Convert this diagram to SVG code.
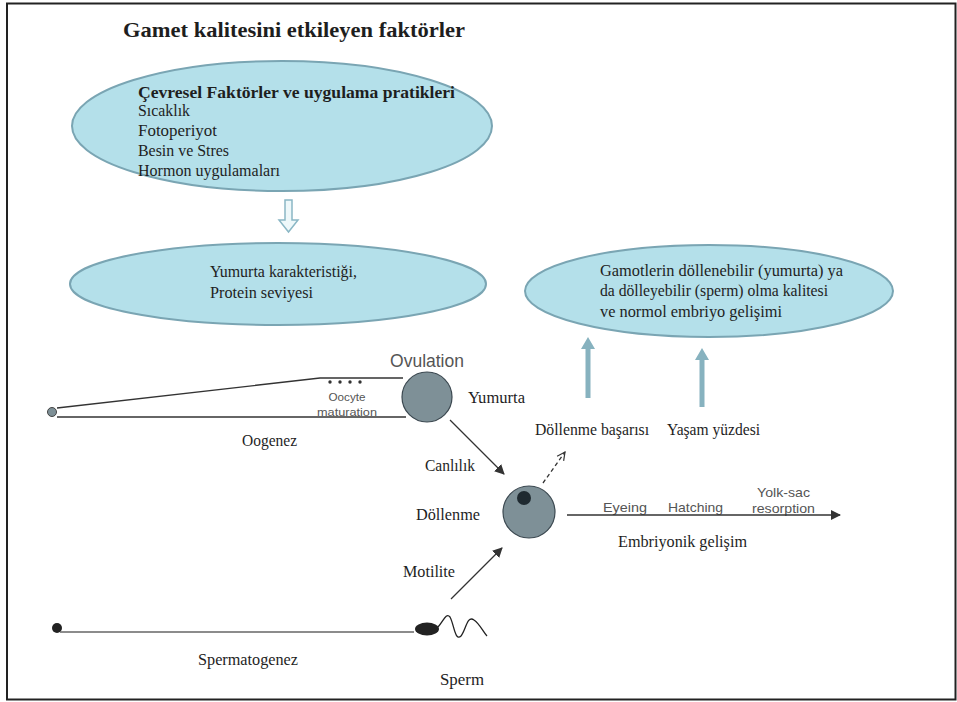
<svg xmlns="http://www.w3.org/2000/svg" width="957" height="702" viewBox="0 0 957 702">
<defs>
<style>
.serif{font-family:"Liberation Serif","Times New Roman",serif;fill:#1e1e1e}
.sans{font-family:"Liberation Sans",Arial,sans-serif;fill:#555}
.ell{fill:#b4e0ea;stroke:#7aa5b3;stroke-width:2}
.cell{fill:#7e9097;stroke:#3b4850;stroke-width:1.2}
.line{stroke:#333;stroke-width:1.3;fill:none}
.upar{fill:#87b2bf}
</style>
<marker id="ah" markerWidth="10" markerHeight="10" refX="9" refY="5" orient="auto" markerUnits="userSpaceOnUse">
<path d="M0,0 L10,5 L0,10 Z" fill="#333"/>
</marker>
<marker id="ahOpen" markerWidth="10" markerHeight="10" refX="9" refY="5" orient="auto" markerUnits="userSpaceOnUse">
<path d="M1,1 L9,5 L1,9" fill="none" stroke="#333" stroke-width="1.2"/>
</marker>
</defs>
<rect x="0" y="0" width="957" height="702" fill="#fff"/>
<rect x="7" y="3.5" width="948.5" height="696" fill="none" stroke="#222" stroke-width="2"/>

<text class="serif" x="123" y="37" font-size="22" font-weight="bold" textLength="342" lengthAdjust="spacingAndGlyphs">Gamet kalitesini etkileyen faktörler</text>

<g id="node-cevresel">
<ellipse class="ell" cx="282" cy="126" rx="210" ry="65"/>
<text class="serif" x="138" y="98" font-size="17" font-weight="bold" textLength="317" lengthAdjust="spacingAndGlyphs">Çevresel Faktörler ve uygulama pratikleri</text>
<text class="serif" x="138" y="116" font-size="16" textLength="52" lengthAdjust="spacingAndGlyphs">Sıcaklık</text>
<text class="serif" x="138" y="136" font-size="16" textLength="79" lengthAdjust="spacingAndGlyphs">Fotoperiyot</text>
<text class="serif" x="138" y="156" font-size="16" textLength="91" lengthAdjust="spacingAndGlyphs">Besin ve Stres</text>
<text class="serif" x="138" y="176" font-size="16" textLength="142" lengthAdjust="spacingAndGlyphs">Hormon uygulamaları</text>
</g>

<g id="node-yumurta-kar">
<ellipse class="ell" cx="278" cy="284" rx="208" ry="41"/>
<text class="serif" x="210" y="277" font-size="16" textLength="147" lengthAdjust="spacingAndGlyphs">Yumurta karakteristiği,</text>
<text class="serif" x="210" y="298" font-size="16" textLength="103" lengthAdjust="spacingAndGlyphs">Protein seviyesi</text>
</g>

<g id="node-gamet-kalite">
<ellipse class="ell" cx="709" cy="291" rx="184" ry="46"/>
<text class="serif" x="600" y="276" font-size="16" textLength="243" lengthAdjust="spacingAndGlyphs">Gamotlerin döllenebilir (yumurta) ya</text>
<text class="serif" x="600" y="296" font-size="16" textLength="228" lengthAdjust="spacingAndGlyphs">da dölleyebilir (sperm) olma kalitesi</text>
<text class="serif" x="600" y="317" font-size="16" textLength="182" lengthAdjust="spacingAndGlyphs">ve normol embriyo gelişimi</text>
</g>

<g id="node-oogenez">
<circle cx="52" cy="412" r="4.5" fill="#7e9097" stroke="#444" stroke-width="1"/>
<polyline class="line" points="57,408 320,378 403,378" stroke-width="1"/>
<line class="line" x1="57" y1="417" x2="406" y2="417" stroke-width="1"/>
<g fill="#333">
<circle cx="330" cy="382" r="1.7"/><circle cx="340" cy="382" r="1.7"/><circle cx="350" cy="382" r="1.7"/><circle cx="360" cy="382" r="1.7"/>
</g>
<text class="sans" x="347" y="401" font-size="11.5" text-anchor="middle" textLength="37" lengthAdjust="spacingAndGlyphs">Oocyte</text>
<text class="sans" x="347" y="416" font-size="11.5" text-anchor="middle" textLength="60" lengthAdjust="spacingAndGlyphs">maturation</text>
<text class="serif" x="242" y="446" font-size="16" textLength="55" lengthAdjust="spacingAndGlyphs">Oogenez</text>
</g>

<g id="node-yumurta">
<text class="sans" x="427" y="367" font-size="17.5" text-anchor="middle" fill="#555">Ovulation</text>
<circle class="cell" cx="427" cy="397" r="25"/>
<text class="serif" x="468" y="403" font-size="16" textLength="57" lengthAdjust="spacingAndGlyphs">Yumurta</text>
</g>

<g id="node-dollenme">
<circle class="cell" cx="529" cy="512" r="26"/>
<circle cx="524" cy="498" r="7" fill="#1f2a30"/>
<text class="serif" x="416" y="520" font-size="16" textLength="64" lengthAdjust="spacingAndGlyphs">Döllenme</text>
</g>

<g id="node-spermatogenez">
<circle cx="57" cy="628" r="5" fill="#222"/>
<line x1="60" y1="632" x2="414" y2="632" stroke="#666" stroke-width="1.5"/>
<text class="serif" x="198" y="665" font-size="16" textLength="100" lengthAdjust="spacingAndGlyphs">Spermatogenez</text>
</g>

<g id="node-sperm">
<ellipse cx="427" cy="629" rx="12" ry="6.5" fill="#222"/>
<path d="M438,627 C443,622 446,612 450,617 C454,624 455,642 461,636 C466,630 467,615 474,620 C480,624 483,632 487,636" fill="none" stroke="#222" stroke-width="1.3"/>
<text class="serif" x="440" y="685" font-size="16" textLength="44" lengthAdjust="spacingAndGlyphs">Sperm</text>
</g>

<g id="node-labels">
<text class="serif" x="425" y="471" font-size="16" textLength="50" lengthAdjust="spacingAndGlyphs">Canlılık</text>
<text class="serif" x="403" y="577" font-size="16" textLength="52" lengthAdjust="spacingAndGlyphs">Motilite</text>
<text class="serif" x="535" y="435" font-size="16" textLength="114" lengthAdjust="spacingAndGlyphs">Döllenme başarısı</text>
<text class="serif" x="667" y="435" font-size="16" textLength="93" lengthAdjust="spacingAndGlyphs">Yaşam yüzdesi</text>
<text class="sans" x="603" y="512" font-size="13" textLength="44" lengthAdjust="spacingAndGlyphs">Eyeing</text>
<text class="sans" x="668" y="512" font-size="13" textLength="55" lengthAdjust="spacingAndGlyphs">Hatching</text>
<text class="sans" x="757" y="497" font-size="13" textLength="53" lengthAdjust="spacingAndGlyphs">Yolk-sac</text>
<text class="sans" x="752" y="513" font-size="13" textLength="63" lengthAdjust="spacingAndGlyphs">resorption</text>
<text class="serif" x="618" y="547" font-size="16" textLength="129" lengthAdjust="spacingAndGlyphs">Embriyonik gelişim</text>
</g>

<g id="connectors">
<path d="M285,200 L292,200 L292,220 L298,220 L288.5,232 L279,220 L285,220 Z" fill="#eef8fa" stroke="#8ab7c5" stroke-width="1.5"/>
<path class="upar" d="M585.5,398 L590.5,398 L590.5,349 L595,349 L588,337 L581,349 L585.5,349 Z"/>
<path class="upar" d="M699.5,407 L704.5,407 L704.5,360 L709,360 L702,348 L695,360 L699.5,360 Z"/>
<line class="line" x1="450" y1="420" x2="504" y2="474" marker-end="url(#ah)"/>
<line class="line" x1="451" y1="599" x2="502" y2="548" marker-end="url(#ah)"/>
<line class="line" x1="543" y1="483" x2="565" y2="452" stroke-dasharray="4,3" marker-end="url(#ahOpen)"/>
<line class="line" x1="567" y1="515" x2="840" y2="515" marker-end="url(#ah)"/>
</g>
</svg>
